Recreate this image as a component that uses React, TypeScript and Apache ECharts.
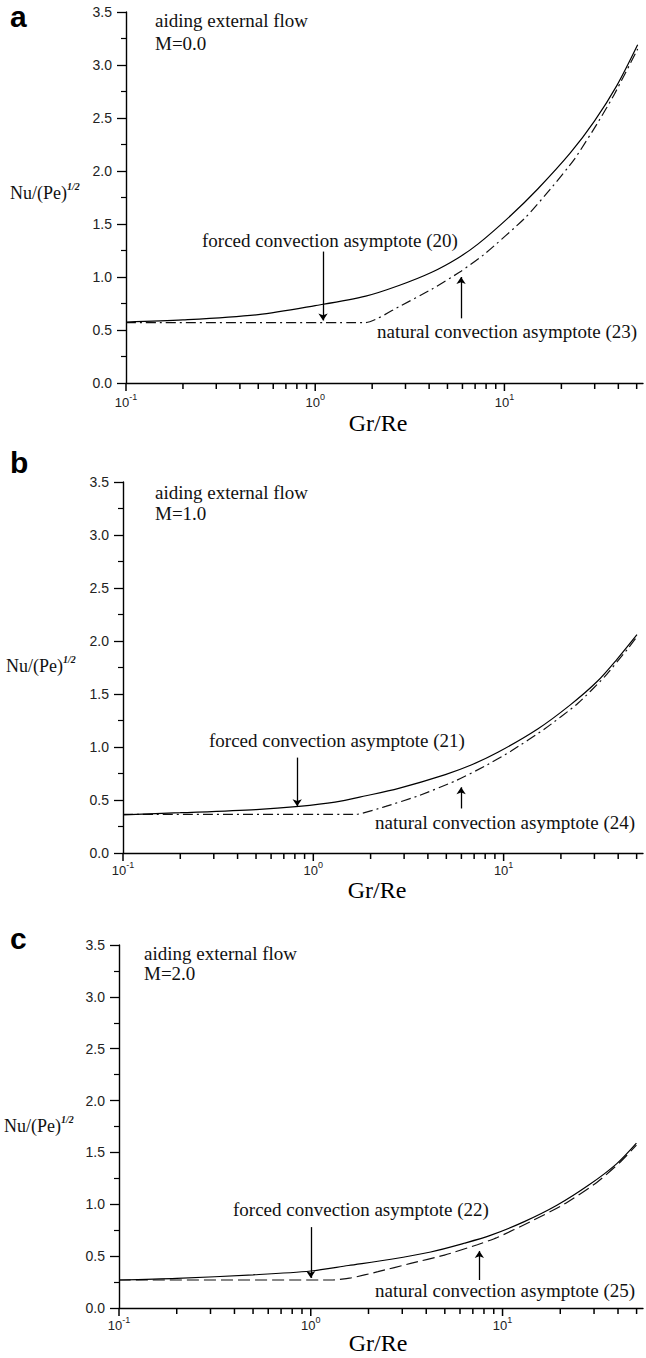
import React, { useEffect, useRef } from 'react';
import * as echarts from 'echarts';

// ---------- texts ----------
const panelLetters = ['a', 'b', 'c'];
const flowLabel = 'aiding external flow';
const mLabels = ['M=0.0', 'M=1.0', 'M=2.0'];
const forcedLabels = [
  'forced convection asymptote (20)',
  'forced convection asymptote (21)',
  'forced convection asymptote (22)',
];
const naturalLabels = [
  'natural convection asymptote (23)',
  'natural convection asymptote (24)',
  'natural convection asymptote (25)',
];
const xAxisTitle = 'Gr/Re';
const yAxisTitle = 'Nu/(Pe)';
const yAxisTitleSup = '1/2';

// ---------- axes ----------
const yMin = 0;
const yMax = 3.5;
const yStep = 0.5;
const xMin = 0.1;
const xMax = 54;
const xMajorTicks = [0.1, 1, 10];
const xMinorTicks = [
  0.2, 0.3, 0.4, 0.5, 0.6, 0.7, 0.8, 0.9,
  2, 3, 4, 5, 6, 7, 8, 9,
  20, 30, 40, 50,
];

// ---------- data: panel a (M=0.0) ----------
const aSolidX = [0.1, 0.2, 0.5, 1.0, 1.85, 2.77, 4.13, 5.69, 7.24, 10.8, 15.0, 22.3, 29.9, 39.4, 50.6];
const aSolidY = [0.575, 0.595, 0.645, 0.73, 0.82, 0.92, 1.045, 1.18, 1.31, 1.58, 1.83, 2.17, 2.47, 2.81, 3.19];
const aDashX = [0.1, 1.85, 2.77, 4.13, 5.9, 7.9, 12.9, 17.5, 23.4, 31, 38, 50.6];
const aDashY = [0.57, 0.57, 0.72, 0.885, 1.055, 1.22, 1.56, 1.83, 2.11, 2.45, 2.72, 3.15];

// ---------- data: panel b (M=1.0) ----------
const bSolidX = [0.1, 0.2, 0.5, 0.84, 1.3, 1.89, 2.81, 4.94, 6.75, 9.33, 15.1, 22.5, 31.1, 39.5, 50.2];
const bSolidY = [0.36, 0.38, 0.41, 0.44, 0.48, 0.54, 0.61, 0.74, 0.83, 0.95, 1.17, 1.4, 1.62, 1.83, 2.06];
const bDashX = [0.1, 1.67, 2.4, 3.57, 5.57, 7.98, 10.9, 16.4, 24.5, 33.8, 44.6, 50.2];
const bDashY = [0.365, 0.365, 0.44, 0.54, 0.68, 0.82, 0.96, 1.17, 1.41, 1.66, 1.92, 2.04];

// ---------- data: panel c (M=2.0) ----------
const cSolidX = [0.1, 0.2, 0.5, 1.0, 1.57, 2.62, 4.22, 6.33, 8.64, 12.9, 19.2, 28.4, 39.3, 49.9];
const cSolidY = [0.27, 0.285, 0.32, 0.357, 0.41, 0.47, 0.54, 0.625, 0.7, 0.83, 0.99, 1.19, 1.39, 1.59];
const cDashX = [0.1, 1.28, 1.62, 2.24, 3.32, 4.98, 7.39, 9.38, 13.9, 20.9, 31.0, 40.7, 49.9];
const cDashY = [0.27, 0.27, 0.29, 0.35, 0.43, 0.51, 0.61, 0.68, 0.83, 1.0, 1.21, 1.4, 1.57];

// ---------- arrows (data coordinates) ----------
const forcedArrowX = [1.1, 0.823, 1.0];
const forcedArrowFrom = [1.24, 0.9, 0.78];
const forcedArrowTo = [0.59, 0.44, 0.29];
const naturalArrowX = [5.9, 5.98, 7.57];
const naturalArrowFrom = [0.61, 0.42, 0.27];
const naturalArrowTo = [1.0, 0.62, 0.55];

const solidXs = [aSolidX, bSolidX, cSolidX];
const solidYs = [aSolidY, bSolidY, cSolidY];
const dashXs = [aDashX, bDashX, cDashX];
const dashYs = [aDashY, bDashY, cDashY];

// ---------- layout ----------
const W = 646;
const H = 1358;
const grids = [
  { left: 126, top: 12, height: 371 },
  { left: 123, top: 482, height: 371 },
  { left: 119, top: 945, height: 363 },
];
const dashPatterns = [
  [10, 4, 2, 4],
  [10, 4, 2, 4],
  [12, 5],
];
const labelMargins = [9, 7, 7];
const letterPos = [[10, 16], [10, 462], [10, 938]];
const flowPos = [[155, 20], [155, 492], [144, 953]];
const mPos = [[155, 43], [155, 513], [144, 973]];
const nuPos = [[10, 193], [6, 666], [4, 1126]];
const grPos = [[378, 423], [377, 890], [378, 1343]];
const forcedTextPos = [[202, 240], [209, 740], [233, 1209]];
const naturalTextPos = [[377, 331], [375, 822], [375, 1290]];

const SERIF = '"Liberation Serif", "Times New Roman", serif';
const SANS = '"Liberation Sans", Arial, sans-serif';

const zip = (xs: number[], ys: number[]) => xs.map((x, i) => [x, ys[i]]);

const fmtX = (v: number) => {
  const e = Math.log10(v);
  const r = Math.round(e);
  if (Math.abs(e - r) > 1e-6) return '';
  return `{b|10}{s|${r}}`;
};

function buildOption() {
  const grid: any[] = [];
  const xAxis: any[] = [];
  const yAxis: any[] = [];
  const series: any[] = [];
  const graphic: any[] = [];

  for (let i = 0; i < 3; i++) {
    const g = grids[i];
    grid.push({ left: g.left, top: g.top, height: g.height, right: 0, containLabel: false });
    xAxis.push({
      type: 'log',
      logBase: 10,
      gridIndex: i,
      min: xMin,
      max: xMax,
      axisLine: { show: true, onZero: false, lineStyle: { color: '#000', width: 1.4 } },
      axisTick: { show: false },
      splitLine: { show: false },
      minorTick: { show: false },
      axisLabel: {
        formatter: fmtX,
        margin: labelMargins[i],
        rich: {
          b: { fontSize: 13, fontFamily: SANS, color: '#222', lineHeight: 20 },
          s: { fontSize: 9, fontFamily: SANS, color: '#222', lineHeight: 9, verticalAlign: 'top' },
        },
      },
    });
    yAxis.push({
      type: 'value',
      gridIndex: i,
      min: yMin,
      max: yMax,
      interval: yStep,
      axisLine: { show: true, onZero: false, lineStyle: { color: '#000', width: 1.4 } },
      axisTick: { show: true, length: 9, lineStyle: { color: '#000', width: 1.3 } },
      minorTick: { show: true, splitNumber: 2, length: 5, lineStyle: { color: '#000', width: 1.2 } },
      splitLine: { show: false },
      minorSplitLine: { show: false },
      axisLabel: {
        formatter: (v: number) => v.toFixed(1),
        fontSize: 14,
        fontFamily: SANS,
        color: '#222',
        margin: 14,
      },
    });

    series.push({
      type: 'line',
      xAxisIndex: i,
      yAxisIndex: i,
      data: zip(solidXs[i], solidYs[i]),
      showSymbol: false,
      smooth: 0.3,
      lineStyle: { color: '#000', width: 1.2 },
      z: 3,
      markLine: {
        silent: true,
        symbol: ['none', 'arrow'],
        symbolSize: 7,
        label: { show: false },
        lineStyle: { color: '#000', width: 1.3, type: 'solid' },
        data: [
          [
            { coord: [forcedArrowX[i], forcedArrowFrom[i]] },
            { coord: [forcedArrowX[i], forcedArrowTo[i]] },
          ],
          [
            { coord: [naturalArrowX[i], naturalArrowFrom[i]] },
            { coord: [naturalArrowX[i], naturalArrowTo[i]] },
          ],
        ],
      },
    });
    series.push({
      type: 'line',
      xAxisIndex: i,
      yAxisIndex: i,
      data: zip(dashXs[i], dashYs[i]),
      showSymbol: false,
      smooth: 0.2,
      lineStyle: { color: '#111', width: 1.2, type: dashPatterns[i] },
      z: 2,
    });

    const txt = (text: string, x: number, y: number, extra: any = {}) => ({
      type: 'text',
      x,
      y,
      silent: true,
      style: {
        text,
        fill: '#111',
        fontFamily: SERIF,
        fontSize: 19,
        align: 'left',
        verticalAlign: 'middle',
        ...extra,
      },
    });

    graphic.push(
      txt(panelLetters[i], letterPos[i][0], letterPos[i][1], {
        fontFamily: SANS,
        fontWeight: 'bold',
        fontSize: 30,
        fill: '#000',
      })
    );
    graphic.push(txt(flowLabel, flowPos[i][0], flowPos[i][1]));
    graphic.push(txt(mLabels[i], mPos[i][0], mPos[i][1]));
    graphic.push(txt(forcedLabels[i], forcedTextPos[i][0], forcedTextPos[i][1]));
    graphic.push(txt(naturalLabels[i], naturalTextPos[i][0], naturalTextPos[i][1]));
    graphic.push(
      txt(xAxisTitle, grPos[i][0], grPos[i][1], { align: 'center', fontSize: 24, fill: '#000' })
    );
    graphic.push({
      type: 'text',
      x: nuPos[i][0],
      y: nuPos[i][1],
      silent: true,
      style: {
        text: `{n|${yAxisTitle}}{s|${yAxisTitleSup}}`,
        align: 'left',
        verticalAlign: 'middle',
        rich: {
          n: { fontFamily: SERIF, fontSize: 18, fill: '#111', lineHeight: 24 },
          s: {
            fontFamily: SERIF,
            fontSize: 10,
            fontStyle: 'italic',
            fontWeight: 'bold',
            fill: '#111',
            lineHeight: 10,
            verticalAlign: 'top',
          },
        },
      },
    });
  }

  return {
    animation: false,
    backgroundColor: '#fff',
    grid,
    xAxis,
    yAxis,
    series,
    graphic,
  };
}

// x-axis ticks (decades and 2..9 subdivisions), positioned through the chart's own log scale
function buildTickGraphics(chart: any) {
  const out: any[] = [];
  for (let i = 0; i < 3; i++) {
    const add = (x: number, len: number) => {
      const p = chart.convertToPixel({ gridIndex: i }, [x, yMin]);
      if (!p || !isFinite(p[0]) || !isFinite(p[1])) return;
      out.push({
        type: 'rect',
        silent: true,
        z: 100,
        shape: { x: p[0] - 0.75, y: p[1], width: 1.5, height: len },
        style: { fill: '#000' },
      });
    };
    xMajorTicks.forEach((x) => add(x, 8));
    xMinorTicks.forEach((x) => add(x, 6));
  }
  return out;
}

export default function App() {
  const ref = useRef<HTMLDivElement>(null);
  useEffect(() => {
    if (!ref.current) return;
    const chart = echarts.init(ref.current, undefined, { renderer: 'svg' });
    const option: any = buildOption();
    chart.setOption(option);
    const ticks = buildTickGraphics(chart);
    chart.setOption({ ...option, graphic: [...option.graphic, ...ticks] }, true);
    return () => chart.dispose();
  }, []);
  return (
    <div
      ref={ref}
      style={{ position: 'absolute', left: 0, top: 0, width: W, height: H, background: '#fff' }}
    />
  );
}
